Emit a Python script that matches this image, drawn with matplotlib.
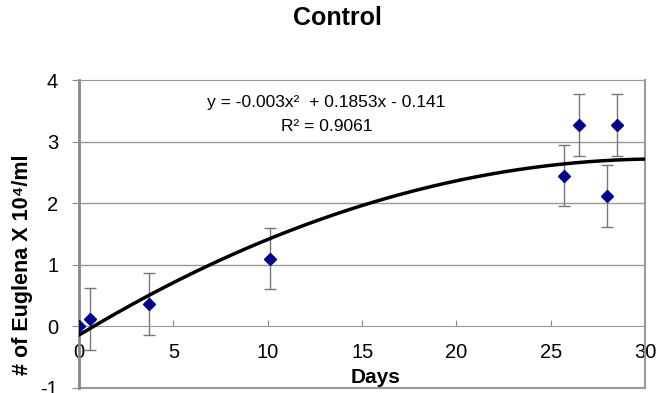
import numpy as np
from matplotlib import pyplot as plt

days = [0.0, 0.6, 3.7, 10.1, 25.7, 26.5, 28.0, 28.5]
euglena = [0.0, 0.12, 0.36, 1.1, 2.45, 3.27, 2.12, 3.27]
errors = [0.0, 0.5, 0.5, 0.5, 0.5, 0.5, 0.5, 0.5]
# trendline coefficients as printed on the chart
coefs = [-0.003, 0.1853, -0.141]
x_ticks = [0, 5, 10, 15, 20, 25, 30]
y_ticks = [-1, 0, 1, 2, 3, 4]

plt.rcParams['font.family'] = ['Liberation Sans', 'DejaVu Sans']
plt.rcParams['axes.unicode_minus'] = False

fig = plt.figure(figsize=(6.7, 3.93), dpi=100)
ax = fig.add_axes([0.118, 0.013, 0.845, 0.783])

ax.set_xlim(0, 30)
ax.set_ylim(-1, 4)

for y in [1, 2, 3]:
    ax.axhline(y, color='#999999', linewidth=1, zorder=1)

ax.errorbar(days, euglena, yerr=errors, fmt='none', ecolor='#777777',
            elinewidth=1, capsize=4, capthick=1, zorder=2)
ax.plot(days, euglena, linestyle='None', marker='D', markersize=6,
        color='#00008B', zorder=4)

xs = np.linspace(0, 30, 200)
ax.plot(xs, np.polyval(coefs, xs), color='black', linewidth=2.5, zorder=3)

ax.spines['bottom'].set_position(('data', 0))
ax.spines['bottom'].set_color('#999999')
ax.spines['left'].set_color('#888888')
ax.spines['left'].set_linewidth(2)
ax.spines['top'].set_color('#999999')
ax.spines['right'].set_color('#999999')
ax.spines['right'].set_linewidth(1.5)
ax.axhline(-1, color='#999999', linewidth=1.5, clip_on=False)

ax.set_xticks(x_ticks)
ax.set_yticks(y_ticks)
ax.tick_params(axis='x', direction='in', length=4, color='#888888',
               labelsize=14.5, pad=12)
ax.tick_params(axis='y', direction='out', length=5, color='#888888',
               labelsize=14.5, pad=10)

ax.text(15.7, -0.83, 'Days', ha='center', va='center', fontsize=15,
        fontweight='bold')
ax.set_ylabel('# of Euglena X 10⁴/ml', fontsize=15.5, fontweight='bold')
ax.yaxis.set_label_coords(-0.081, 0.40)
fig.suptitle('Control', fontsize=18, fontweight='bold', x=0.503, y=0.985)

ax.text(13.1, 3.63, 'y = -0.003x²  + 0.1853x - 0.141', ha='center', va='center',
        fontsize=12.5)
ax.text(13.1, 3.24, 'R² = 0.9061', ha='center', va='center', fontsize=12.5)

fig.savefig('out.png', dpi=100)
